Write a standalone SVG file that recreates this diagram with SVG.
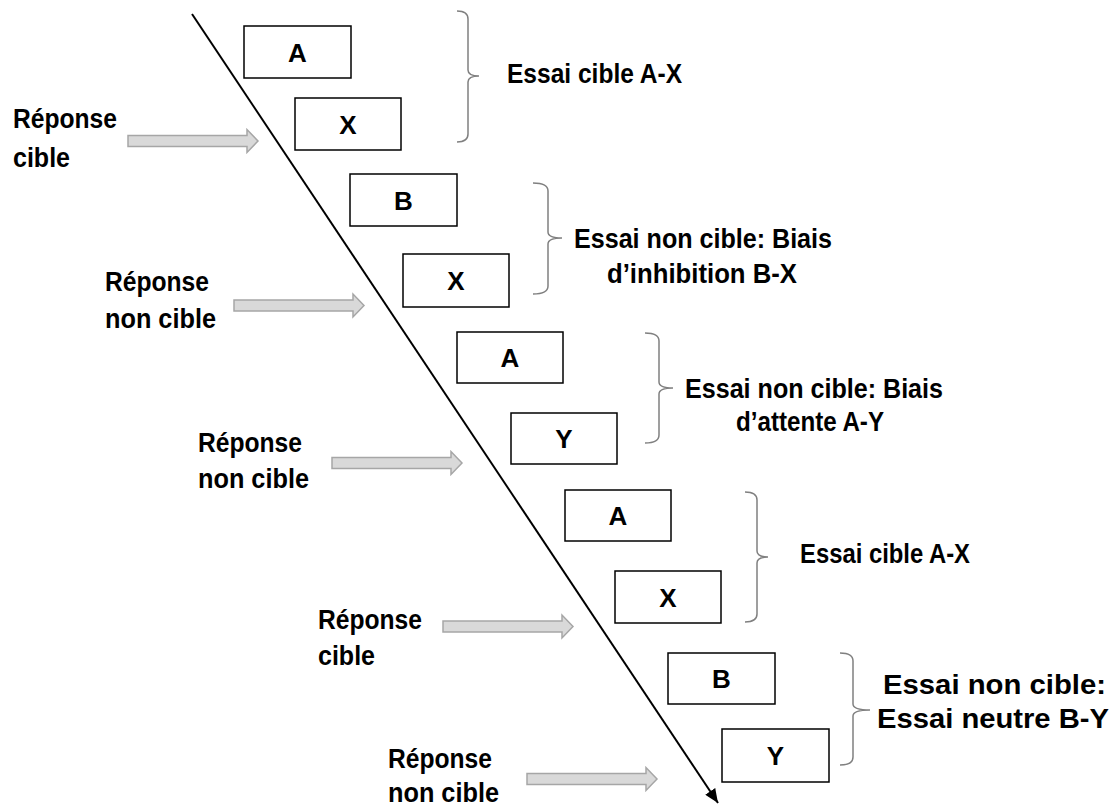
<svg xmlns="http://www.w3.org/2000/svg" width="1115" height="809" viewBox="0 0 1115 809">
<style>
text{font-family:"Liberation Sans",Arial,sans-serif;font-weight:bold;fill:#000}
.lbl{font-size:27px}
.big{font-size:28px}
.let{font-size:26px;text-anchor:middle}
.box{fill:#fff;stroke:#000;stroke-width:1.5}
.brace{fill:none;stroke:#808080;stroke-width:1.5}
.arr{fill:#d9d9d9;stroke:#a6a6a6;stroke-width:1.5}
</style>
<defs>
<marker id="ah" markerUnits="userSpaceOnUse" markerWidth="16" markerHeight="12" refX="14" refY="6" orient="auto">
<path d="M0,0 L14,6 L0,12 Z" fill="#000"/>
</marker>
<path id="blockArrow" d="M0,-5.5 H119 V-11.5 L130,0 L119,11.5 V5.5 H0 Z"/>
</defs>

<g id="connectors">
<line id="timeline" x1="192" y1="14" x2="718" y2="803" stroke="#000" stroke-width="2" marker-end="url(#ah)"/>
<use href="#blockArrow" class="arr" x="128" y="141"/>
<use href="#blockArrow" class="arr" x="234" y="305.5"/>
<use href="#blockArrow" class="arr" x="332" y="463"/>
<use href="#blockArrow" class="arr" x="443" y="626.5"/>
<use href="#blockArrow" class="arr" x="527" y="779"/>
</g>

<g id="box-A1"><rect class="box" x="244" y="26" width="107" height="52"/><text class="let" x="297.5" y="62">A</text></g>
<g id="box-X1"><rect class="box" x="295" y="98" width="106" height="52"/><text class="let" x="348" y="134">X</text></g>
<g id="box-B1"><rect class="box" x="350" y="174" width="107" height="52"/><text class="let" x="403.5" y="210">B</text></g>
<g id="box-X2"><rect class="box" x="403" y="254" width="106" height="53"/><text class="let" x="456" y="290">X</text></g>
<g id="box-A2"><rect class="box" x="457" y="332" width="106" height="51"/><text class="let" x="510" y="367">A</text></g>
<g id="box-Y1"><rect class="box" x="511" y="413" width="106" height="51"/><text class="let" x="564" y="448">Y</text></g>
<g id="box-A3"><rect class="box" x="565" y="490" width="106" height="51"/><text class="let" x="618" y="525">A</text></g>
<g id="box-X3"><rect class="box" x="615" y="571" width="106" height="52"/><text class="let" x="668" y="607">X</text></g>
<g id="box-B2"><rect class="box" x="668" y="653" width="107" height="51"/><text class="let" x="721.5" y="688">B</text></g>
<g id="box-Y2"><rect class="box" x="722" y="729" width="107" height="53"/><text class="let" x="775.5" y="765">Y</text></g>

<g id="resp1"><text class="lbl" x="13" y="128" textLength="104" lengthAdjust="spacingAndGlyphs">Réponse</text><text class="lbl" x="13" y="167" textLength="57" lengthAdjust="spacingAndGlyphs">cible</text></g>
<g id="resp2"><text class="lbl" x="105" y="291" textLength="104" lengthAdjust="spacingAndGlyphs">Réponse</text><text class="lbl" x="105" y="328" textLength="111" lengthAdjust="spacingAndGlyphs">non cible</text></g>
<g id="resp3"><text class="lbl" x="198" y="452" textLength="104" lengthAdjust="spacingAndGlyphs">Réponse</text><text class="lbl" x="198" y="488" textLength="111" lengthAdjust="spacingAndGlyphs">non cible</text></g>
<g id="resp4"><text class="lbl" x="318" y="629" textLength="104" lengthAdjust="spacingAndGlyphs">Réponse</text><text class="lbl" x="318" y="665" textLength="57" lengthAdjust="spacingAndGlyphs">cible</text></g>
<g id="resp5"><text class="lbl" x="388" y="768" textLength="104" lengthAdjust="spacingAndGlyphs">Réponse</text><text class="lbl" x="388" y="802" textLength="111" lengthAdjust="spacingAndGlyphs">non cible</text></g>

<g id="trial1">
<path class="brace" d="M457,11 Q468,11 468,19 L468,70 Q468,76 479,76 M468,82 Q468,76 479,76 M468,82 L468,134 Q468,142 457,142"/>
<text class="lbl" x="507" y="83" textLength="175" lengthAdjust="spacingAndGlyphs">Essai cible A-X</text>
</g>
<g id="trial2">
<path class="brace" d="M533,183 Q548,183 548,191 L548,232 Q548,238 562,238 M548,244 Q548,238 562,238 M548,244 L548,286 Q548,294 533,294"/>
<text class="lbl" x="574" y="248" textLength="258" lengthAdjust="spacingAndGlyphs">Essai non cible: Biais</text>
<text class="lbl" x="607" y="283" textLength="190" lengthAdjust="spacingAndGlyphs">d’inhibition B-X</text>
</g>
<g id="trial3">
<path class="brace" d="M645,333 Q659,333 659,341 L659,382 Q659,388 673,388 M659,394 Q659,388 673,388 M659,394 L659,435 Q659,443 645,443"/>
<text class="lbl" x="685" y="398" textLength="258" lengthAdjust="spacingAndGlyphs">Essai non cible: Biais</text>
<text class="lbl" x="736" y="431" textLength="148" lengthAdjust="spacingAndGlyphs">d’attente A-Y</text>
</g>
<g id="trial4">
<path class="brace" d="M745,492 Q757,492 757,500 L757,551 Q757,557 768,557 M757,563 Q757,557 768,557 M757,563 L757,614 Q757,622 745,622"/>
<text class="lbl" x="800" y="563" textLength="170" lengthAdjust="spacingAndGlyphs">Essai cible A-X</text>
</g>
<g id="trial5">
<path class="brace" d="M840,653 Q853,653 853,661 L853,704 Q853,710 870,710 M853,716 Q853,710 870,710 M853,716 L853,757 Q853,765 840,765"/>
<text class="big" x="883" y="694" textLength="223" lengthAdjust="spacingAndGlyphs">Essai non cible:</text>
<text class="big" x="877" y="728" textLength="232" lengthAdjust="spacingAndGlyphs">Essai neutre B-Y</text>
</g>
</svg>
